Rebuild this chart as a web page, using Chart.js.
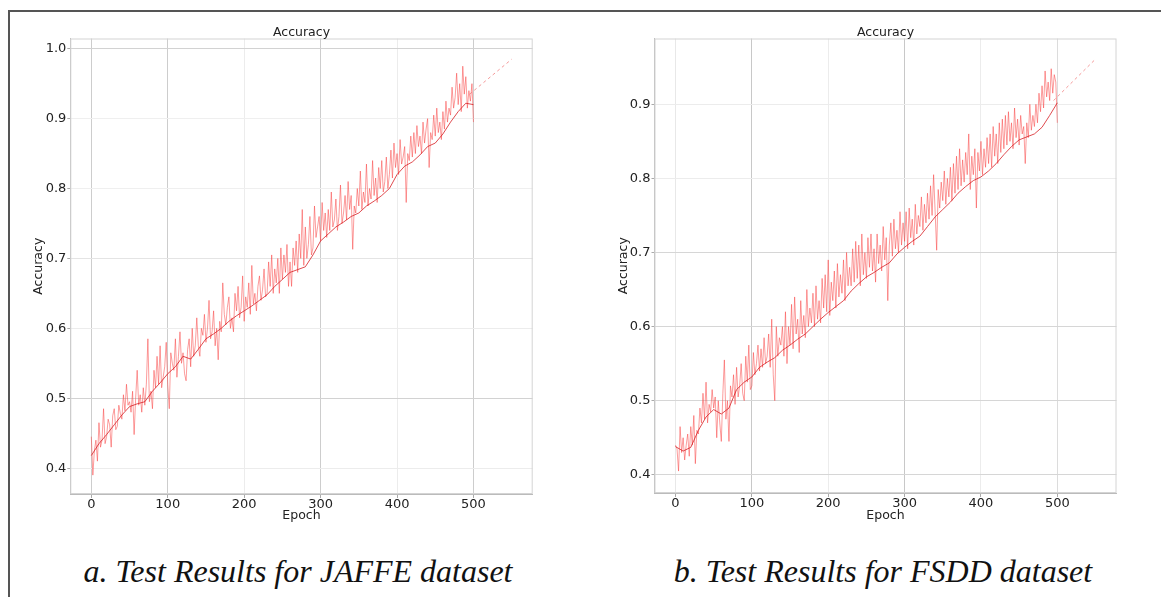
<!DOCTYPE html>
<html>
<head>
<meta charset="utf-8">
<script src="https://cdn.jsdelivr.net/npm/chart.js@4/dist/chart.umd.min.js"></script>
<style>
    html, body { margin: 0; padding: 0; background: #fff; overflow: hidden; }
    body { width: 1161px; height: 597px; position: relative; }
    .frame {
        position: absolute; left: 8px; top: 10px; width: 1200px; height: 620px;
        border-top: 2px solid #555; border-left: 2px solid #555;
    }
    canvas { position: absolute; top: 0; }
    #jaffe { left: 0; }
    #fsdd { left: 580px; }
    .caption {
        position: absolute; top: 553px; width: 560px; text-align: center;
        font-family: "Liberation Serif", serif; font-style: italic; font-size: 32px; color: #111;
        white-space: nowrap;
    }
</style>
</head>
<body>
<div class="frame"></div>
<canvas id="jaffe" width="580" height="530"></canvas>
<canvas id="fsdd" width="581" height="530"></canvas>
<div class="caption" style="left: 18px;">a. Test Results for JAFFE dataset</div>
<div class="caption" style="left: 603px;">b. Test Results for FSDD dataset</div>

<script>
const xTicks = [0, 100, 200, 300, 400, 500];
const rawStep = 2;
const smoothStep = 10;
const trendEpochs = [495, 550];

// JAFFE: raw accuracy every 2 epochs (0..500)
const jaffeRaw = [
    0.445, 0.39, 0.425, 0.44, 0.41,
    0.465, 0.43, 0.44, 0.485, 0.435,
    0.445, 0.47, 0.462, 0.43, 0.475,
    0.485, 0.455, 0.46, 0.49, 0.478,
    0.47, 0.505, 0.482, 0.52, 0.49,
    0.495, 0.48, 0.51, 0.448, 0.5,
    0.54, 0.49, 0.505, 0.48, 0.515,
    0.49, 0.52, 0.585, 0.495, 0.51,
    0.485, 0.54, 0.515, 0.56, 0.52,
    0.575, 0.515, 0.53, 0.545, 0.58,
    0.52, 0.485, 0.565, 0.55, 0.54,
    0.585, 0.53, 0.56, 0.595, 0.55,
    0.565, 0.535, 0.525, 0.57, 0.585,
    0.545, 0.6, 0.56, 0.575, 0.615,
    0.575, 0.56, 0.6, 0.59, 0.62,
    0.58, 0.6, 0.64, 0.585, 0.595,
    0.625, 0.575, 0.6, 0.555, 0.61,
    0.595, 0.665, 0.62, 0.605, 0.63,
    0.645, 0.6, 0.615, 0.595, 0.65,
    0.625, 0.66, 0.615, 0.63, 0.675,
    0.61, 0.645, 0.63, 0.665, 0.62,
    0.69, 0.635, 0.65, 0.625, 0.66,
    0.675, 0.64, 0.655, 0.685, 0.645,
    0.65, 0.695, 0.66, 0.705, 0.65,
    0.685, 0.665, 0.7, 0.65, 0.715,
    0.67, 0.705, 0.68, 0.72, 0.66,
    0.695, 0.66, 0.715, 0.69, 0.725,
    0.68, 0.735, 0.7, 0.77, 0.69,
    0.745, 0.7, 0.72, 0.76, 0.705,
    0.715, 0.775, 0.73, 0.745, 0.76,
    0.725, 0.78, 0.74, 0.765, 0.73,
    0.77, 0.74, 0.795, 0.745, 0.755,
    0.785, 0.74, 0.76, 0.805, 0.75,
    0.765, 0.79, 0.755, 0.81, 0.77,
    0.79, 0.713, 0.775, 0.765, 0.8,
    0.775, 0.825, 0.77, 0.795, 0.78,
    0.835, 0.775, 0.8, 0.785, 0.84,
    0.79, 0.815, 0.78, 0.83, 0.8,
    0.84, 0.795, 0.81, 0.845, 0.8,
    0.82, 0.855, 0.815, 0.865, 0.83,
    0.85, 0.82, 0.87, 0.835, 0.845,
    0.86, 0.78, 0.85, 0.84, 0.875,
    0.845, 0.88, 0.85, 0.89, 0.86,
    0.875, 0.85, 0.895, 0.865, 0.885,
    0.9, 0.83, 0.88, 0.87, 0.905,
    0.875, 0.915, 0.88, 0.895, 0.87,
    0.91, 0.885, 0.925, 0.895, 0.915,
    0.905, 0.945, 0.915, 0.93, 0.965,
    0.92, 0.95, 0.91, 0.975, 0.935,
    0.96, 0.915, 0.94, 0.925, 0.95,
    0.895
];

// JAFFE: smoothed accuracy every 10 epochs
const jaffeSmooth = [
    0.418, 0.435, 0.448, 0.462, 0.476, 0.488, 0.492, 0.495, 0.51, 0.522,
    0.535, 0.545, 0.56, 0.556, 0.57, 0.585, 0.592, 0.6, 0.61, 0.618,
    0.625, 0.632, 0.64, 0.648, 0.66, 0.67, 0.68, 0.684, 0.688, 0.705,
    0.725, 0.735, 0.745, 0.752, 0.76, 0.765, 0.775, 0.782, 0.79, 0.8,
    0.82, 0.832, 0.838, 0.848, 0.86, 0.865, 0.878, 0.895, 0.91, 0.922,
    0.92
];
const jaffeTrend = [0.935, 0.985];

// FSDD: raw accuracy every 2 epochs (0..500)
const fsddRaw = [
    0.44, 0.435, 0.405, 0.465, 0.43,
    0.45, 0.42, 0.44, 0.455, 0.425,
    0.465, 0.44, 0.48, 0.415, 0.46,
    0.455, 0.49, 0.47, 0.51, 0.475,
    0.525, 0.47, 0.495, 0.485, 0.515,
    0.49, 0.505, 0.45, 0.5, 0.47,
    0.445, 0.51, 0.555, 0.475, 0.5,
    0.445, 0.52, 0.505, 0.535, 0.495,
    0.545, 0.505, 0.52, 0.55, 0.51,
    0.5, 0.56, 0.525, 0.575, 0.515,
    0.52, 0.565, 0.535, 0.55, 0.575,
    0.54, 0.57, 0.545, 0.585, 0.55,
    0.56, 0.59, 0.545, 0.61, 0.535,
    0.5, 0.6, 0.56, 0.585, 0.575,
    0.6, 0.56, 0.62, 0.55, 0.6,
    0.575, 0.63, 0.57, 0.64, 0.59,
    0.61, 0.565, 0.635, 0.59, 0.615,
    0.585, 0.65, 0.6, 0.625, 0.605,
    0.645, 0.6, 0.655, 0.61, 0.635,
    0.605, 0.665, 0.625, 0.67, 0.62,
    0.69, 0.615, 0.66, 0.635, 0.675,
    0.625, 0.685, 0.64, 0.67, 0.645,
    0.69, 0.635, 0.7, 0.655, 0.68,
    0.655, 0.705, 0.66, 0.715, 0.665,
    0.71, 0.655, 0.725, 0.67, 0.7,
    0.665, 0.72, 0.68, 0.725, 0.675,
    0.705, 0.66, 0.725, 0.685, 0.71,
    0.675, 0.735, 0.69, 0.72, 0.635,
    0.71, 0.74, 0.695, 0.745, 0.705,
    0.73, 0.7, 0.755, 0.71, 0.74,
    0.715, 0.755, 0.705, 0.76, 0.72,
    0.745, 0.71, 0.765, 0.725, 0.75,
    0.735, 0.775, 0.73, 0.765, 0.74,
    0.78, 0.745, 0.79, 0.75, 0.805,
    0.755, 0.703, 0.785, 0.76, 0.795,
    0.77, 0.81, 0.765, 0.8, 0.775,
    0.815, 0.77, 0.82, 0.78, 0.83,
    0.785, 0.84, 0.79, 0.825, 0.795,
    0.835, 0.805, 0.86, 0.785, 0.83,
    0.805, 0.84, 0.76, 0.835, 0.81,
    0.85, 0.805, 0.84, 0.815, 0.855,
    0.82, 0.86, 0.815, 0.87, 0.83,
    0.86, 0.82, 0.875, 0.835, 0.88,
    0.84, 0.885, 0.845, 0.89, 0.85,
    0.875, 0.84, 0.895, 0.855, 0.88,
    0.845, 0.885, 0.86, 0.87, 0.82,
    0.875, 0.855, 0.9, 0.865, 0.885,
    0.87, 0.9, 0.875, 0.915, 0.89,
    0.925, 0.895, 0.945, 0.91, 0.93,
    0.905, 0.948, 0.915, 0.94, 0.93,
    0.875
];

// FSDD: smoothed accuracy every 10 epochs
const fsddSmooth = [
    0.438, 0.432, 0.437, 0.46, 0.478, 0.488, 0.482, 0.49, 0.515, 0.525,
    0.532, 0.545, 0.552, 0.558, 0.568, 0.575, 0.583, 0.59, 0.6, 0.61,
    0.619, 0.627, 0.635, 0.648, 0.658, 0.667, 0.673, 0.68, 0.686, 0.698,
    0.707, 0.715, 0.722, 0.735, 0.748, 0.758, 0.768, 0.78, 0.789, 0.797,
    0.802, 0.81, 0.82, 0.832, 0.843, 0.852, 0.856, 0.86, 0.869, 0.885,
    0.902
];
const fsddTrend = [0.905, 0.961];

const jaffeYTicks = [0.4, 0.5, 0.6, 0.7, 0.8, 0.9, 1.0];
const fsddYTicks = [0.4, 0.5, 0.6, 0.7, 0.8, 0.9];

const FONT = '"DejaVu Sans", sans-serif';

const plotFrame = {
    id: 'plotFrame',
    beforeDatasetsDraw(chart) {
        const { ctx, chartArea: a } = chart;
        ctx.save();
        ctx.strokeStyle = '#d4d4d4';
        ctx.lineWidth = 1;
        ctx.strokeRect(a.left + 0.5, a.top + 0.5, a.right - a.left - 1, a.bottom - a.top - 1);
        ctx.restore();
    },
    afterDraw(chart) {
        const { ctx, chartArea: a } = chart;
        ctx.save();
        ctx.font = '12.5px ' + FONT;
        ctx.fillStyle = '#222';
        ctx.textAlign = 'center';
        ctx.textBaseline = 'alphabetic';
        ctx.fillText('Accuracy', (a.left + a.right) / 2, a.top - 3);
        ctx.restore();
    }
};

function toPoints(values, step) {
    return values.map((v, i) => ({ x: i * step, y: v }));
}

function makeChart(canvasId, cfg) {
    return new Chart(document.getElementById(canvasId), {
        type: 'line',
        data: {
            datasets: [
                {
                    data: toPoints(cfg.smooth, smoothStep),
                    borderColor: 'rgba(215, 30, 35, 0.8)',
                    borderWidth: 1,
                    pointRadius: 0,
                    order: 0
                },
                {
                    data: trendEpochs.map((x, i) => ({ x: x, y: cfg.trend[i] })),
                    borderColor: 'rgba(240, 110, 110, 0.7)',
                    borderWidth: 1,
                    borderDash: [3, 3],
                    pointRadius: 0,
                    order: 1
                },
                {
                    data: toPoints(cfg.raw, rawStep),
                    borderColor: 'rgba(250, 60, 60, 0.5)',
                    borderWidth: 1,
                    pointRadius: 0,
                    order: 2
                }
            ]
        },
        plugins: [plotFrame],
        options: {
            responsive: false,
            animation: false,
            devicePixelRatio: 1,
            layout: { padding: { left: cfg.padLeft, right: cfg.padRight, top: 38.5, bottom: 0 } },
            plugins: { legend: { display: false }, tooltip: { enabled: false } },
            scales: {
                x: {
                    type: 'linear',
                    min: -27.5,
                    max: 577.5,
                    afterBuildTicks: s => { s.ticks = xTicks.map(v => ({ value: v })); },
                    afterFit: s => { s.height = cfg.xHeight; },
                    grid: {
                        color: c => cfg.xGrid[xTicks.indexOf(c.tick.value)] || '#e6e6e6',
                        tickLength: 4,
                        tickColor: '#aaa'
                    },
                    border: { color: '#bbb' },
                    ticks: { padding: 0, color: '#222', font: { family: FONT, size: 13, lineHeight: 1 } },
                    title: {
                        display: true, text: 'Epoch', color: '#222',
                        font: { family: FONT, size: 12.5, lineHeight: 1 },
                        padding: { top: 0, bottom: 7.75 }
                    }
                },
                y: {
                    type: 'linear',
                    min: cfg.yMin,
                    max: cfg.yMax,
                    afterBuildTicks: s => { s.ticks = cfg.yTicks.map(v => ({ value: v })); },
                    afterFit: s => { s.width = cfg.yWidth; },
                    grid: {
                        color: c => cfg.yGrid[cfg.yTicks.indexOf(c.tick.value)] || '#e6e6e6',
                        tickLength: 3,
                        tickColor: '#aaa'
                    },
                    border: { color: '#bbb' },
                    ticks: {
                        padding: 1, color: '#222',
                        font: { family: FONT, size: 13, lineHeight: 1 },
                        callback: v => v.toFixed(1)
                    },
                    title: {
                        display: true, text: 'Accuracy', color: '#222',
                        font: { family: FONT, size: 12.5, lineHeight: 1 },
                        padding: 0
                    }
                }
            }
        }
    });
}

makeChart('jaffe', {
    raw: jaffeRaw, smooth: jaffeSmooth, trend: jaffeTrend,
    yMin: 0.363, yMax: 1.0146, yTicks: jaffeYTicks,
    padLeft: 32.5, padRight: 47.3, yWidth: 37.8, xHeight: 36,
    xGrid: ['#cdcdcd', '#cdcdcd', '#ececec', '#cdcdcd', '#ececec', '#cdcdcd'],
    yGrid: ['#ececec', '#d2d2d2', '#ececec', '#e4e4e4', '#efefef', '#efefef', '#d2d2d2']
});

makeChart('fsdd', {
    raw: fsddRaw, smooth: fsddSmooth, trend: fsddTrend,
    yMin: 0.3754, yMax: 0.9888, yTicks: fsddYTicks,
    padLeft: 37.5, padRight: 44.5, yWidth: 37, xHeight: 37,
    xGrid: ['#e8e8e8', '#c8c8c8', '#ececec', '#c8c8c8', '#ececec', '#dcdcdc'],
    yGrid: ['#d6d6d6', '#d6d6d6', '#d6d6d6', '#d6d6d6', '#ececec', '#ececec']
});
</script>
</body>
</html>
